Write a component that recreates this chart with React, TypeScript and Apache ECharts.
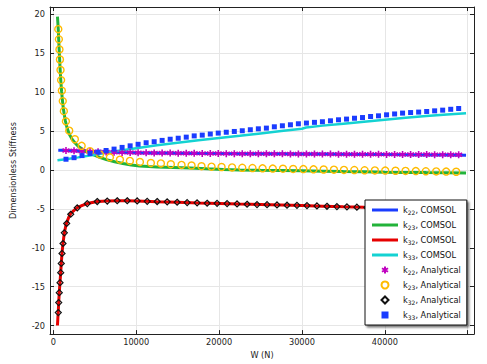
import React, { useEffect, useRef } from 'react';
import * as echarts from 'echarts';

// ---------- data ----------
const W_K22_COMSOL = [600, 1000, 1500, 2500, 3500, 5000, 6500, 8000, 10000, 12500, 15000, 17500, 20000, 22500, 25000, 27500, 30000, 32500, 35000, 37500, 40000, 42500, 45000, 47500, 49800];
const K22_COMSOL = [2.53, 2.52, 2.5, 2.46, 2.42, 2.36, 2.3, 2.26, 2.22, 2.18, 2.16, 2.13, 2.11, 2.09, 2.08, 2.07, 2.05, 2.04, 2.02, 2.0, 1.98, 1.96, 1.94, 1.92, 1.9];

const W_K23_COMSOL = [500, 550, 600, 650, 700, 760, 820, 900, 1000, 1100, 1200, 1300, 1450, 1600, 1800, 2000, 2300, 2600, 3000, 3600, 4200, 4800, 5600, 6400, 7400, 8400, 9400, 10400, 11500, 12500, 14500, 16500, 18500, 20500, 22500, 25000, 27500, 30000, 32500, 35000, 37500, 40000, 42500, 45000, 47500, 49800];
const K23_COMSOL = [19.7, 18.9, 18.0, 16.8, 15.6, 14.3, 13.0, 11.5, 10.1, 8.95, 8.0, 7.25, 6.35, 5.65, 4.95, 4.45, 3.9, 3.5, 3.05, 2.6, 2.25, 1.96, 1.62, 1.33, 1.05, 0.82, 0.63, 0.5, 0.43, 0.38, 0.33, 0.26, 0.15, 0.05, -0.02, -0.05, -0.07, -0.1, -0.15, -0.2, -0.24, -0.28, -0.31, -0.34, -0.36, -0.38];

const W_K32_COMSOL = [500, 550, 600, 650, 720, 810, 890, 960, 1050, 1170, 1330, 1500, 1610, 1850, 2100, 2500, 2900, 3500, 4100, 5300, 6500, 7700, 8900, 10100, 12500, 15000, 17500, 20000, 22500, 25000, 27500, 30000, 32500, 35000, 37500, 40000, 42500, 45000, 47500, 49800];
const K32_COMSOL = [-20.0, -19.0, -18.2, -17.0, -15.7, -14.4, -13.2, -12.0, -10.7, -9.4, -8.1, -7.2, -6.8, -6.1, -5.6, -5.2, -4.85, -4.55, -4.32, -4.06, -3.98, -3.95, -3.96, -3.99, -4.07, -4.15, -4.24, -4.31, -4.39, -4.45, -4.51, -4.57, -4.65, -4.73, -4.8, -4.86, -4.9, -4.94, -4.98, -5.01];

const W_K33_COMSOL = [500, 1500, 3000, 5000, 7500, 10000, 12500, 15000, 17500, 20000, 22500, 25000, 27500, 30000, 30500, 32500, 35000, 37500, 40000, 42500, 45000, 47500, 49800];
const K33_COMSOL = [1.25, 1.38, 1.62, 1.97, 2.4, 2.8, 3.17, 3.5, 3.83, 4.12, 4.4, 4.7, 5.0, 5.3, 5.45, 5.7, 5.95, 6.2, 6.45, 6.7, 6.93, 7.13, 7.3];

const W_K22_K33_ANALYTICAL = [1530, 2500, 3460, 4430, 5400, 6370, 7330, 8300, 9270, 10230, 11200, 12170, 13130, 14100, 15070, 16040, 17000, 17970, 18940, 19900, 20870, 21840, 22800, 23770, 24740, 25710, 26670, 27640, 28610, 29570, 30540, 31510, 32470, 33440, 34410, 35380, 36340, 37310, 38280, 39240, 40210, 41180, 42140, 43110, 44080, 45050, 46010, 46980, 47950, 48910];
const K22_ANALYTICAL = [2.5, 2.46, 2.42, 2.38, 2.34, 2.31, 2.28, 2.26, 2.24, 2.22, 2.2, 2.19, 2.18, 2.17, 2.16, 2.15, 2.14, 2.13, 2.12, 2.11, 2.1, 2.1, 2.09, 2.09, 2.08, 2.08, 2.07, 2.07, 2.06, 2.06, 2.05, 2.05, 2.04, 2.04, 2.03, 2.03, 2.02, 2.02, 2.01, 2.01, 2.0, 2.0, 1.99, 1.99, 1.98, 1.98, 1.97, 1.97, 1.96, 1.96];
const K33_ANALYTICAL = [1.38, 1.58, 1.85, 2.12, 2.3, 2.5, 2.68, 2.9, 3.1, 3.3, 3.5, 3.63, 3.8, 3.95, 4.08, 4.22, 4.38, 4.48, 4.62, 4.74, 4.85, 4.95, 5.04, 5.17, 5.29, 5.38, 5.55, 5.68, 5.81, 5.94, 6.03, 6.12, 6.2, 6.32, 6.45, 6.54, 6.65, 6.74, 6.87, 6.96, 7.09, 7.2, 7.31, 7.38, 7.44, 7.52, 7.6, 7.69, 7.8, 7.9];

const W_K23_ANALYTICAL = [600, 670, 740, 800, 870, 940, 1030, 1140, 1270, 1520, 1920, 2600, 3420, 4420, 5630, 6830, 8040, 9240, 10450, 11770, 12980, 14180, 15470, 16680, 17880, 19090, 20300, 21570, 22800, 24030, 25250, 26480, 27710, 28940, 30170, 31400, 32620, 33860, 35070, 36320, 37560, 38800, 40050, 41290, 42500, 43740, 44950, 46200, 47400, 48610];
const K23_ANALYTICAL = [18.1, 16.8, 15.5, 14.2, 12.85, 11.55, 10.2, 8.85, 7.55, 6.25, 5.05, 3.95, 3.1, 2.42, 1.99, 1.62, 1.33, 1.16, 1.03, 0.9, 0.84, 0.74, 0.65, 0.58, 0.48, 0.42, 0.38, 0.33, 0.28, 0.25, 0.21, 0.18, 0.16, 0.13, 0.11, 0.08, 0.06, 0.04, 0.01, -0.01, -0.04, -0.06, -0.08, -0.1, -0.12, -0.14, -0.17, -0.19, -0.21, -0.23];

const W_K32_ANALYTICAL = [600, 650, 720, 810, 890, 960, 1050, 1170, 1330, 1610, 2100, 2890, 4100, 5300, 6510, 7710, 8920, 10120, 11330, 12530, 13740, 14940, 16150, 17350, 18560, 19760, 20970, 22170, 23380, 24580, 25790, 26990, 28200, 29400, 30610, 31810, 33020, 34220, 35430, 36630, 37840, 39040, 40250, 41450, 42660, 43860, 45070, 46270, 47480, 48680];
const K32_ANALYTICAL = [-18.33, -17.05, -15.77, -14.49, -13.2, -12.01, -10.73, -9.45, -8.08, -6.88, -5.69, -4.87, -4.32, -4.06, -4.0, -3.96, -3.96, -3.98, -4.03, -4.06, -4.1, -4.15, -4.19, -4.23, -4.28, -4.29, -4.32, -4.36, -4.41, -4.45, -4.46, -4.49, -4.53, -4.55, -4.58, -4.62, -4.67, -4.71, -4.74, -4.78, -4.81, -4.84, -4.86, -4.88, -4.9, -4.92, -4.94, -4.96, -4.98, -5.0];

const X_TICKS = [0, 10000, 20000, 30000, 40000, 50000];
const X_LABELS = [0, 10000, 20000, 30000, 40000];
const Y_TICKS = [-20, -15, -10, -5, 0, 5, 10, 15, 20];

const SERIES_NAMES = ['k22, COMSOL', 'k23, COMSOL', 'k32, COMSOL', 'k33, COMSOL', 'k22, Analytical', 'k23, Analytical', 'k32, Analytical', 'k33, Analytical'];

// ---------- styling ----------
const FONT = 'DejaVu Sans';
const C_BLUE = '#1a3cff';
const C_GREEN = '#22b33a';
const C_RED = '#e60000';
const C_CYAN = '#14d2d2';
const C_MAGENTA = '#c000c0';
const C_ORANGE = '#ffbb00';
const AXIS_COLOR = '#222';
const ASTERISK = 'path://M5,0L5,10M0.67,2.5L9.33,7.5M0.67,7.5L9.33,2.5';
const LINE_ICON = 'path://M0,0H26V3H0Z';
const SQUARE_ICON = 'path://M2,2H8V8H2Z';
const DIAMOND_ICON = 'path://M5,0L10,5L5,10L0,5Z';

const zip = (xs: number[], ys: number[]) => xs.map((x, i) => [x, ys[i]]);

export default function App() {
  const ref = useRef<HTMLDivElement>(null);
  useEffect(() => {
    if (!ref.current) return;
    const chart = echarts.init(ref.current, undefined, { renderer: 'svg' });
    const X_MIN = -400;
    const X_MAX = 50760;
    const Y_MIN = -21.1;
    const Y_MAX = 20.95;
    const labelStyle = { fontSize: 8.2, color: AXIS_COLOR, fontFamily: FONT };
    const lineSeries = (name: string, data: number[][], color: string, width: number) => ({
      name,
      type: 'line',
      data,
      color,
      symbol: 'none',
      showSymbol: false,
      lineStyle: { color, width },
      z: 2,
    });
    const legendIcons = [LINE_ICON, LINE_ICON, LINE_ICON, LINE_ICON, ASTERISK, 'circle', DIAMOND_ICON, SQUARE_ICON];
    chart.setOption({
      animation: false,
      backgroundColor: '#fff',
      grid: { left: 50, right: 13, top: 7, bottom: 29, containLabel: false },
      xAxis: [
        {
          type: 'value', min: X_MIN, max: X_MAX, position: 'bottom',
          name: 'W (N)', nameLocation: 'middle', nameGap: 12,
          nameTextStyle: { ...labelStyle },
          axisLine: { show: true, onZero: false, lineStyle: { color: AXIS_COLOR, width: 1 } },
          axisTick: { show: true, inside: true, length: 4, customValues: X_TICKS, lineStyle: { color: AXIS_COLOR } },
          axisLabel: { show: true, customValues: X_LABELS, margin: 4, ...labelStyle, formatter: (v: number) => String(v) },
          splitLine: { show: true, lineStyle: { color: '#e6e6e6', width: 1 } },
        },
        {
          type: 'value', min: X_MIN, max: X_MAX, position: 'top',
          axisLine: { show: true, onZero: false, lineStyle: { color: AXIS_COLOR, width: 1 } },
          axisTick: { show: true, inside: true, length: 4, customValues: X_TICKS, lineStyle: { color: AXIS_COLOR } },
          axisLabel: { show: false },
          splitLine: { show: false },
        },
      ],
      yAxis: [
        {
          type: 'value', min: Y_MIN, max: Y_MAX, position: 'left',
          name: 'Dimensionless Stiffness', nameLocation: 'middle', nameGap: 33,
          nameTextStyle: { ...labelStyle },
          axisLine: { show: true, onZero: false, lineStyle: { color: AXIS_COLOR, width: 1 } },
          axisTick: { show: true, inside: true, length: 4, customValues: Y_TICKS, lineStyle: { color: AXIS_COLOR } },
          axisLabel: { show: true, customValues: Y_TICKS, margin: 5, ...labelStyle },
          splitLine: { show: true, lineStyle: { color: '#e6e6e6', width: 1 } },
        },
        {
          type: 'value', min: Y_MIN, max: Y_MAX, position: 'right',
          axisLine: { show: true, onZero: false, lineStyle: { color: AXIS_COLOR, width: 1 } },
          axisTick: { show: true, inside: true, length: 4, customValues: Y_TICKS, lineStyle: { color: AXIS_COLOR } },
          axisLabel: { show: false },
          splitLine: { show: false },
        },
      ],
      legend: {
        orient: 'vertical',
        left: 365,
        top: 200,
        z: 20,
        zlevel: 0,
        padding: [4, 6, 4, 7],
        itemWidth: 26,
        itemHeight: 7,
        itemGap: 3,
        backgroundColor: '#fff',
        borderColor: '#111',
        borderWidth: 1,
        borderRadius: 0,
        shadowColor: 'rgba(0,0,0,0.55)',
        shadowBlur: 2,
        shadowOffsetX: 2,
        shadowOffsetY: 2,
        data: SERIES_NAMES.map((name, i) => (i < 4
          ? { name, icon: legendIcons[i], itemStyle: { borderWidth: 0 } }
          : { name, icon: legendIcons[i] })),
        formatter: (name: string) => name.replace(/^k(\d\d)(.*)$/, '{n|k}{s|$1}{n|$2}'),
        textStyle: {
          fontSize: 8.2, fontFamily: FONT, color: '#111', lineHeight: 12,
          rich: {
            n: { fontSize: 8.2, fontFamily: FONT, color: '#111', lineHeight: 12 },
            s: { fontSize: 6, fontFamily: FONT, color: '#111', lineHeight: 12, padding: [4, 0, 0, 0] },
          },
        },
      },
      series: [
        lineSeries(SERIES_NAMES[0], zip(W_K22_COMSOL, K22_COMSOL), C_BLUE, 3),
        lineSeries(SERIES_NAMES[1], zip(W_K23_COMSOL, K23_COMSOL), C_GREEN, 3),
        lineSeries(SERIES_NAMES[2], zip(W_K32_COMSOL, K32_COMSOL), C_RED, 3),
        lineSeries(SERIES_NAMES[3], zip(W_K33_COMSOL, K33_COMSOL), C_CYAN, 2.5),
        {
          name: SERIES_NAMES[4], type: 'scatter', data: zip(W_K22_K33_ANALYTICAL, K22_ANALYTICAL),
          symbol: ASTERISK, symbolSize: 7, z: 3,
          itemStyle: { color: C_MAGENTA, borderColor: C_MAGENTA, borderWidth: 1.6, opacity: 1 },
        },
        {
          name: SERIES_NAMES[5], type: 'scatter', data: zip(W_K23_ANALYTICAL, K23_ANALYTICAL),
          symbol: 'circle', symbolSize: 7, z: 3,
          itemStyle: { color: 'rgba(255,255,255,0)', borderColor: C_ORANGE, borderWidth: 1.4, opacity: 1 },
        },
        {
          name: SERIES_NAMES[6], type: 'scatter', data: zip(W_K32_ANALYTICAL, K32_ANALYTICAL),
          symbol: 'diamond', symbolSize: 6, z: 3,
          itemStyle: { color: 'rgba(255,255,255,0)', borderColor: '#111', borderWidth: 1.2, opacity: 1 },
        },
        {
          name: SERIES_NAMES[7], type: 'scatter', data: zip(W_K22_K33_ANALYTICAL, K33_ANALYTICAL),
          symbol: 'rect', symbolSize: 5, z: 3,
          itemStyle: { color: C_BLUE, opacity: 1 },
        },
      ],
    });
    return () => chart.dispose();
  }, []);
  return <div ref={ref} style={{ width: 487, height: 364, position: 'absolute', left: 0, top: 0 }} />;
}
